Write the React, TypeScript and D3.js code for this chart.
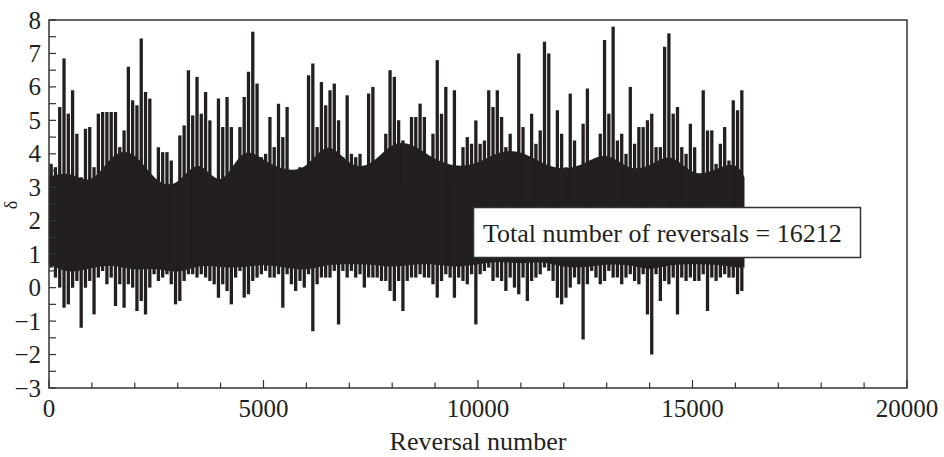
import React from "react";
import * as d3 from "d3";

// Reversal-number axis ticks and labels
const xTickLabels = [0, 5000, 10000, 15000, 20000];
const xMinorTicks = d3.range(0, 20001, 1000);
const yTickLabels = [-3, -2, -1, 0, 1, 2, 3, 4, 5, 6, 7, 8];
const yMinorTicks = d3.range(-3, 8.01, 0.5);

const totalReversals = 16212;
const binWidth = 100;

// Per-100-reversal maximum of delta
const binHigh = [
  3.7, 3.6, 5.4, 6.85, 5.2, 5.9, 4.6, 3.3, 4.75, 4.8,
  3.6, 5.2, 5.25, 5.25, 5.25, 5.25, 4.2, 4.7, 6.6, 5.6,
  5.45, 7.45, 5.85, 5.65, 3.2, 4.2, 4.05, 4.05, 3.8, 2.8,
  4.55, 4.85, 6.5, 5.15, 6.3, 5.2, 5.85, 5.0, 3.0, 5.65,
  4.8, 5.7, 4.8, 3.5, 4.8, 5.7, 6.45, 7.65, 6.1, 3.9,
  4.0, 5.1, 4.2, 5.5, 4.5, 5.4, 3.0, 3.2, 3.6, 3.0,
  6.35, 6.7, 4.8, 6.15, 5.45, 5.9, 6.1, 5.0, 3.9, 5.75,
  4.0, 3.9, 4.0, 3.4, 5.8, 6.0, 3.6, 3.4, 4.6, 6.5,
  6.3, 5.0, 4.4, 3.2, 5.1, 5.1, 5.5, 5.1, 3.8, 4.6,
  6.8, 5.2, 6.0, 3.2, 5.9, 3.5, 4.2, 4.5, 4.3, 5.0,
  4.3, 4.4, 5.9, 5.4, 5.9, 5.1, 4.2, 4.6, 3.3, 7.0,
  4.8, 3.9, 5.2, 4.3, 4.7, 7.35, 7.0, 3.0, 5.3, 4.6,
  3.6, 5.8, 4.4, 2.6, 4.9, 5.95, 3.8, 3.6, 4.6, 7.4,
  5.2, 7.8, 4.4, 4.6, 4.0, 6.0, 4.3, 4.8, 4.8, 5.0,
  5.2, 4.2, 4.2, 7.2, 7.6, 5.2, 5.4, 4.2, 4.0, 4.9,
  4.2, 3.4, 5.9, 4.7, 4.7, 3.7, 4.3, 4.8, 3.8, 5.6,
  5.3, 5.9,
];

// Per-100-reversal minimum of delta
const binLow = [
  0.6, 0.3, 0.0, -0.6, -0.5, 0.0, 0.2, -1.2, 0.0, 0.2,
  -0.8, 0.3, 0.5, 0.1, 0.3, -0.55, 0.1, -0.6, 0.1, 0.0,
  -0.7, -0.4, -0.8, 0.0, 0.4, 0.2, 0.3, 0.4, 0.1, -0.5,
  -0.4, 0.2, 0.4, 0.4, 0.3, 0.4, 0.3, 0.2, 0.1, -0.3,
  0.1, -0.1, -0.5, 0.3, 0.5, -0.3, -0.2, 0.2, 0.3, 0.4,
  0.5, 0.3, 0.3, 0.4, -0.6, 0.4, 0.1, -0.1, 0.2, 0.0,
  0.4, -1.3, 0.1, 0.3, 0.3, 0.3, 0.5, -1.1, 0.5, 0.3,
  0.5, 0.3, 0.4, 0.0, 0.3, 0.3, 0.3, 0.2, 0.2, -0.1,
  -0.4, 0.2, -0.7, 0.2, 0.3, 0.3, 0.4, 0.3, 0.3, 0.1,
  -0.3, 0.2, 0.4, 0.3, -0.3, 0.3, 0.2, 0.1, 0.4, -1.1,
  0.4, 0.5, 0.6, 0.2, 0.3, 0.2, -0.1, 0.3, 0.0, -0.2,
  0.3, -0.4, 0.2, 0.3, 0.4, 0.6, 0.5, 0.2, -0.3, -0.5,
  -0.3, 0.0, 0.3, 0.1, -1.55, 0.1, 0.5, 0.3, 0.1, 0.2,
  0.5, 0.3, 0.3, 0.1, 0.3, 0.4, 0.2, 0.1, 0.4, -0.8,
  -2.0, 0.4, -0.4, 0.2, 0.1, 0.3, -0.8, 0.3, 0.2, 0.3,
  0.2, 0.2, 0.4, -0.7, 0.3, 0.2, 0.3, 0.4, 0.3, 0.3,
  -0.2, -0.1,
];

// Dense (solid) band of the series, sampled every 500 reversals
const coreRev = [
  0, 500, 1000, 1500, 2000, 2500, 3000, 3500, 4000, 4500, 5000, 5500, 6000,
  6500, 7000, 7500, 8000, 8500, 9000, 9500, 10000, 10500, 11000, 11500, 12000,
  12500, 13000, 13500, 14000, 14500, 15000, 15500, 16000, 16212,
];
const coreTop = [
  3.3, 3.5, 3.0, 4.1, 4.1, 3.1, 3.0, 4.0, 2.8, 4.3, 3.8, 3.5, 3.5, 4.5, 3.6,
  3.6, 4.4, 4.3, 3.8, 3.6, 3.7, 4.1, 4.1, 3.7, 3.5, 3.7, 4.1, 3.5, 3.6, 4.1,
  3.3, 3.5, 3.8, 3.3,
];
const coreBottom = [
  0.7, 0.4, 0.6, 0.7, 0.5, 0.6, 0.4, 0.7, 0.6, 0.6, 0.7, 0.6, 0.5, 0.7, 0.7,
  0.7, 0.6, 0.7, 0.7, 0.6, 0.7, 0.8, 0.7, 0.8, 0.6, 0.6, 0.7, 0.7, 0.5, 0.7,
  0.7, 0.7, 0.6, 0.6,
];

const annotation = "Total number of reversals = 16212";
const xTitle = "Reversal number";
const yTitle = "δ";

const W = 944;
const H = 457;
const M = { left: 49, right: 907, top: 20, bottom: 388 };
const INK = "#231f20";
const FONT = "'Liberation Serif', 'DejaVu Serif', serif";

export default function App() {
  const x = d3.scaleLinear().domain([0, 20000]).range([M.left, M.right]);
  const y = d3.scaleLinear().domain([-3, 8]).range([M.bottom, M.top]);

  const core = coreRev.map((r, i) => ({ r, t: coreTop[i], b: coreBottom[i] }));
  const area = d3
    .area<{ r: number; t: number; b: number }>()
    .curve(d3.curveBasis)
    .x((d) => x(d.r))
    .y0((d) => y(d.b))
    .y1((d) => y(d.t));

  const bins = binHigh.map((h, i) => {
    const start = i * binWidth;
    const end = Math.min(start + binWidth, totalReversals);
    return { c: (start + end) / 2, h, l: binLow[i] };
  });

  return (
    <svg
      width={W}
      height={H}
      style={{ position: "absolute", left: 0, top: 0, background: "#fff" }}
      fontFamily={FONT}
    >
      <rect x={0} y={0} width={W} height={H} fill="#fff" />
      {/* series */}
      <path d={area(core) || ""} fill={INK} />
      {bins.map((d, i) => (
        <line
          key={i}
          x1={x(d.c)}
          x2={x(d.c)}
          y1={y(d.l)}
          y2={y(d.h)}
          stroke={INK}
          strokeWidth={3.3}
        />
      ))}

      {/* annotation box */}
      <rect x={473.5} y={207.5} width={387} height={50} fill="#fff" stroke="#333" strokeWidth={1.5} />
      <text x={483} y={242} fontSize={26} fill={INK}>
        {annotation}
      </text>

      {/* frame */}
      <rect
        x={M.left}
        y={M.top}
        width={M.right - M.left}
        height={M.bottom - M.top}
        fill="none"
        stroke="#333"
        strokeWidth={1.5}
      />
      {/* x ticks */}
      {xMinorTicks.map((t) => (
        <line
          key={"xt" + t}
          x1={x(t)}
          x2={x(t)}
          y1={M.bottom}
          y2={M.bottom - (t % 5000 === 0 ? 8 : 5.5)}
          stroke="#333"
          strokeWidth={1.2}
        />
      ))}
      {xTickLabels.map((t) => (
        <text key={"xl" + t} x={x(t)} y={417} fontSize={25} textAnchor="middle" fill={INK}>
          {t}
        </text>
      ))}
      {/* y ticks */}
      {yMinorTicks.map((t) => (
        <line
          key={"yt" + t}
          x1={M.left}
          x2={M.left + 7}
          y1={y(t)}
          y2={y(t)}
          stroke="#333"
          strokeWidth={1.2}
        />
      ))}
      {yTickLabels.map((t) => (
        <text
          key={"yl" + t}
          x={41}
          y={y(t)}
          dy="0.34em"
          fontSize={25}
          textAnchor="end"
          fill={INK}
        >
          {t < 0 ? "\u2212" + Math.abs(t) : t}
        </text>
      ))}

      {/* titles */}
      <text x={(M.left + M.right) / 2} y={450} fontSize={26} textAnchor="middle" fill={INK}>
        {xTitle}
      </text>
      <text
        transform={`translate(17,205) rotate(-90)`}
        fontSize={18}
        textAnchor="middle"
        fill={INK}
      >
        {yTitle}
      </text>
    </svg>
  );
}
